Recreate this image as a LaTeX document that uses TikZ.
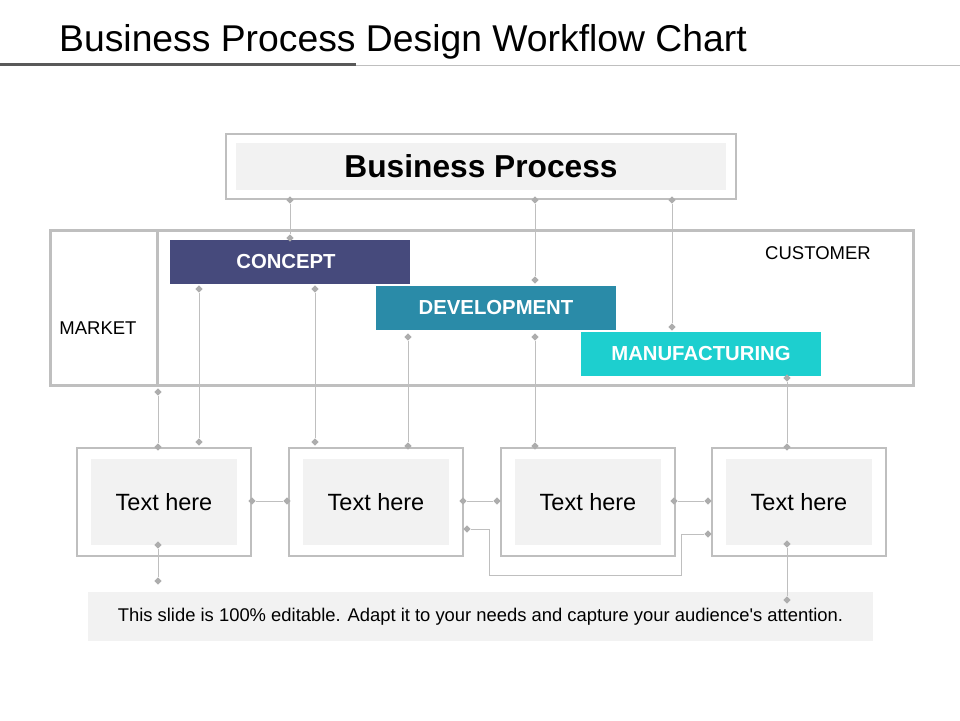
\documentclass[tikz,border=0pt]{standalone}
\usepackage{fontspec}
\setmainfont{Liberation Sans}
\usetikzlibrary{shapes.geometric}
\definecolor{lgray}{HTML}{BFBFBF}
\definecolor{dgray}{HTML}{595959}
\definecolor{dmc}{HTML}{ADADAD}
\definecolor{fillg}{HTML}{F2F2F2}
\definecolor{cconcept}{HTML}{464A7C}
\definecolor{cdev}{HTML}{2A8BA8}
\definecolor{cmanuf}{HTML}{1DCFCF}
\tikzset{
  dm/.style={diamond, fill=dmc, inner sep=0pt, minimum size=7.5pt},
  conn/.style={draw=lgray, line width=1pt},
  outerbox/.style={draw=lgray, line width=1.2pt, fill=white, minimum width=174pt, minimum height=108pt},
  innerbox/.style={fill=fillg, minimum width=146pt, minimum height=86pt, font=\fontsize{23.5}{28}\selectfont},
  phase/.style={minimum width=240pt, minimum height=44pt, text=white, font=\bfseries\fontsize{20.3}{24}\selectfont},
  lbl/.style={font=\fontsize{18.5}{22}\selectfont}
}
\begin{document}
\begin{tikzpicture}[x=1pt,y=-1pt]
\useasboundingbox[fill=white] (0,0) rectangle (960,720);
% title
\node[anchor=base west, inner sep=0pt, font=\fontsize{37.3}{44}\selectfont] (title) at (59,51) {Business Process Design Workflow Chart};
\draw[dgray, line width=3pt] (0,64) -- (356,64);
\draw[lgray, line width=1pt] (356,65) -- (960,65);
% business process
\node[draw=lgray, line width=1.2pt, minimum width=510pt, minimum height=65pt] (bpo) at (481,166.5) {};
\node[fill=fillg, minimum width=490pt, minimum height=47pt, font=\bfseries\fontsize{31.7}{37}\selectfont] (bp) at (481,166.5) {Business Process};
% band
\node[draw=lgray, line width=3pt, minimum width=863pt, minimum height=155pt] (band) at (481.5,307.5) {};
\draw[lgray, line width=3pt] (157,230) -- (157,385);
\node[lbl] (market) at (98,328) {MARKET};
\node[lbl] (customer) at (818,253) {CUSTOMER};
% phases
\node[phase, fill=cconcept] (concept) at (290,262) {\hspace*{-8pt}CONCEPT};
\node[phase, fill=cdev] (dev) at (496,308) {DEVELOPMENT};
\node[phase, fill=cmanuf] (manuf) at (701,354) {MANUFACTURING};
% boxes
\node[outerbox] (b1) at (164,502) {};
\node[innerbox] (t1) at (164,502) {Text here};
\node[outerbox] (b2) at (376,502) {};
\node[innerbox] (t2) at (376,502) {Text here};
\node[outerbox] (b3) at (588,502) {};
\node[innerbox] (t3) at (588,502) {Text here};
\node[outerbox] (b4) at (799,502) {};
\node[innerbox] (t4) at (799,502) {Text here};
% caption
\node[fill=fillg, minimum width=785pt, minimum height=49pt, font=\fontsize{18.4}{22}\selectfont] (cap) at (480.5,616.5) {This slide is 100\% editable. Adapt it to your needs and capture your audience\textquotesingle s attention.};
% connector end points
\node[dm] (a1) at (290,200) {}; \node[dm] (a2) at (290,238) {};
\node[dm] (b1a) at (535,200) {}; \node[dm] (b2a) at (535,280) {};
\node[dm] (c1) at (672,200) {}; \node[dm] (c2) at (672,327) {};
\node[dm] (d1) at (199,289) {}; \node[dm] (d2) at (199,442) {};
\node[dm] (e1) at (315,289) {}; \node[dm] (e2) at (315,442) {};
\node[dm] (f1) at (408,337) {}; \node[dm] (f2) at (408,446) {};
\node[dm] (g1) at (535,337) {}; \node[dm] (g2) at (535,446) {};
\node[dm] (h1) at (787,378) {}; \node[dm] (h2) at (787,447) {};
\node[dm] (i1) at (158,392) {}; \node[dm] (i2) at (158,447) {};
\node[dm] (j1) at (158,545) {}; \node[dm] (j2) at (158,581) {};
\node[dm] (k1) at (252,501) {}; \node[dm] (k2) at (287,501) {};
\node[dm] (l1) at (463,501) {}; \node[dm] (l2) at (497,501) {};
\node[dm] (m1) at (674,501) {}; \node[dm] (m2) at (708,501) {};
\node[dm] (n1) at (467,529) {}; \node[dm] (n2) at (708,534) {};
\node[dm] (o1) at (787,544) {}; \node[dm] (o2) at (787,600) {};
\coordinate (n3) at (489,575);
\coordinate (n4) at (681,575);
% connectors
\draw[conn] (a1) -- (a2);
\draw[conn] (b1a) -- (b2a);
\draw[conn] (c1) -- (c2);
\draw[conn] (d1) -- (d2);
\draw[conn] (e1) -- (e2);
\draw[conn] (f1) -- (f2);
\draw[conn] (g1) -- (g2);
\draw[conn] (h1) -- (h2);
\draw[conn] (i1) -- (i2);
\draw[conn] (j1) -- (j2);
\draw[conn] (k1) -- (k2);
\draw[conn] (l1) -- (l2);
\draw[conn] (m1) -- (m2);
\draw[conn] (n1) -| (n3) -- (n4) |- (n2);
\draw[conn] (o1) -- (o2);
\end{tikzpicture}
\end{document}
